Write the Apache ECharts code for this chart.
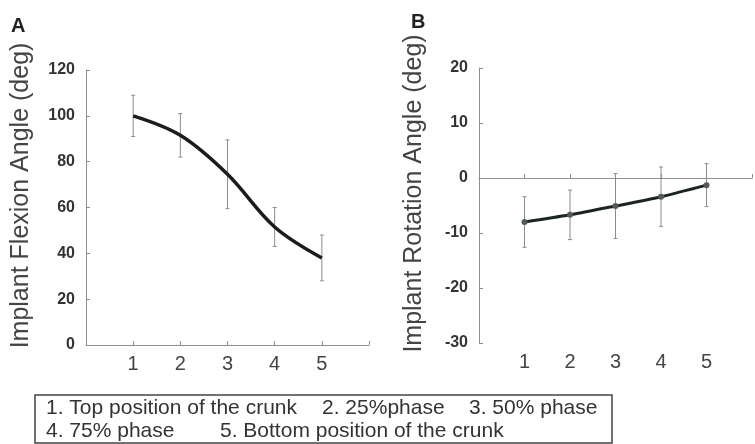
<!DOCTYPE html>
<html>
<head>
<meta charset="utf-8">
<script src="https://cdn.jsdelivr.net/npm/echarts@6/dist/echarts.min.js"></script>
<style>
    html, body { margin: 0; padding: 0; background: #ffffff; }
    #chart { width: 755px; height: 444px; }
</style>
</head>
<body>
<div id="chart"></div>
<script>
// phases along the x axis (1..5)
const phases = [1, 2, 3, 4, 5];

// A: implant flexion angle (deg), mean and sd
const flexionMean = [100, 91.5, 74.5, 51.5, 38];
const flexionSd = [9, 9.5, 15, 8.5, 10];

// B: implant rotation angle (deg), mean and sd
const rotationMean = [-8, -6.7, -5.1, -3.4, -1.3];
const rotationSd = [4.6, 4.5, 5.9, 5.4, 3.9];

// legend text below the charts
const legendLine1 = ['1. Top position of the crunk', '2. 25%phase', '3. 50% phase'];
const legendLine2 = ['4. 75% phase', '5. Bottom position of the crunk'];

const font = 'Liberation Sans, Arial, sans-serif';

function meanPoints(mean) {
    return phases.map((p, i) => [p, mean[i]]);
}
function errPoints(mean, sd) {
    return phases.map((p, i) => [p, mean[i] - sd[i], mean[i] + sd[i]]);
}

function renderErr(params, api) {
    const top = api.coord([api.value(0), api.value(2)]);
    const bot = api.coord([api.value(0), api.value(1)]);
    const w = 2;
    const style = { stroke: '#8c8c8c', lineWidth: 1 };
    return {
        type: 'group',
        children: [
            { type: 'line', shape: { x1: top[0], y1: top[1], x2: bot[0], y2: bot[1] }, style: style },
            { type: 'line', shape: { x1: top[0] - w, y1: top[1], x2: top[0] + w, y2: top[1] }, style: style },
            { type: 'line', shape: { x1: bot[0] - w, y1: bot[1], x2: bot[0] + w, y2: bot[1] }, style: style },
        ],
    };
}

function xAxisOf(gridIndex) {
    return {
        type: 'value',
        gridIndex: gridIndex,
        min: 0,
        max: 6,
        interval: 1,
        axisLine: { lineStyle: { color: '#8f8f8f', width: 1 } },
        axisTick: { inside: true, length: 4, lineStyle: { color: '#8f8f8f' } },
        splitLine: { show: false },
        axisLabel: {
            margin: 9,
            fontFamily: font,
            fontSize: 20,
            color: '#444444',
            formatter: (v) => (v >= 1 && v <= 5 ? String(v) : ''),
        },
    };
}

function yAxisOf(gridIndex, min, max, interval, name) {
    return {
        type: 'value',
        gridIndex: gridIndex,
        min: min,
        max: max,
        interval: interval,
        name: name,
        nameLocation: 'middle',
        nameRotate: 90,
        nameGap: 52,
        nameTextStyle: {
            fontFamily: font,
            fontSize: 25,
            color: '#444444',
            padding: [0, 0, 0, 24],
        },
        axisLine: { show: true, lineStyle: { color: '#8f8f8f', width: 1 } },
        axisTick: { show: true, inside: true, length: 4, lineStyle: { color: '#8f8f8f' } },
        splitLine: { show: false },
        axisLabel: {
            margin: 11,
            fontFamily: font,
            fontSize: 16,
            fontWeight: 'bold',
            color: '#333333',
            padding: [0, 0, 5, 0],
        },
    };
}

const chart = echarts.init(document.getElementById('chart'));

chart.setOption({
    animation: false,
    backgroundColor: '#ffffff',
    title: [
        { text: 'A', left: 11, top: 16, padding: 0, textStyle: { fontFamily: font, fontSize: 20, fontWeight: 'bold', color: '#222222' } },
        { text: 'B', left: 411, top: 12, padding: 0, textStyle: { fontFamily: font, fontSize: 20, fontWeight: 'bold', color: '#222222' } },
    ],
    grid: [
        { left: 86, top: 70, width: 283, height: 275 },
        { left: 479, top: 68, width: 278, height: 275 },
    ],
    xAxis: [xAxisOf(0), xAxisOf(1)],
    yAxis: [
        yAxisOf(0, 0, 120, 20, 'Implant Flexion Angle (deg)'),
        yAxisOf(1, -30, 20, 10, 'Implant Rotation Angle (deg)'),
    ],
    series: [
        {
            type: 'custom',
            xAxisIndex: 0,
            yAxisIndex: 0,
            renderItem: renderErr,
            data: errPoints(flexionMean, flexionSd),
            z: 1,
        },
        {
            type: 'line',
            xAxisIndex: 0,
            yAxisIndex: 0,
            data: meanPoints(flexionMean),
            smooth: 0.35,
            showSymbol: false,
            lineStyle: { color: '#1c1c1c', width: 3.5 },
            z: 3,
        },
        {
            type: 'custom',
            xAxisIndex: 1,
            yAxisIndex: 1,
            renderItem: renderErr,
            data: errPoints(rotationMean, rotationSd),
            z: 1,
        },
        {
            type: 'line',
            xAxisIndex: 1,
            yAxisIndex: 1,
            data: meanPoints(rotationMean),
            smooth: 0.3,
            symbol: 'circle',
            symbolSize: 6,
            itemStyle: { color: '#555a58' },
            lineStyle: { color: '#1c2421', width: 3 },
            z: 3,
        },
    ],
    graphic: [
        {
            type: 'rect',
            shape: { x: 35, y: 395, width: 577, height: 48 },
            style: { fill: 'none', stroke: '#444444', lineWidth: 1.5 },
        },
        { type: 'text', x: 46, y: 398, style: { text: legendLine1[0], font: '21px ' + font, fill: '#333333' } },
        { type: 'text', x: 322, y: 398, style: { text: legendLine1[1], font: '21px ' + font, fill: '#333333' } },
        { type: 'text', x: 469, y: 398, style: { text: legendLine1[2], font: '21px ' + font, fill: '#333333' } },
        { type: 'text', x: 46, y: 421, style: { text: legendLine2[0], font: '21px ' + font, fill: '#333333' } },
        { type: 'text', x: 220, y: 421, style: { text: legendLine2[1], font: '21px ' + font, fill: '#333333' } },
    ],
});
</script>
</body>
</html>
